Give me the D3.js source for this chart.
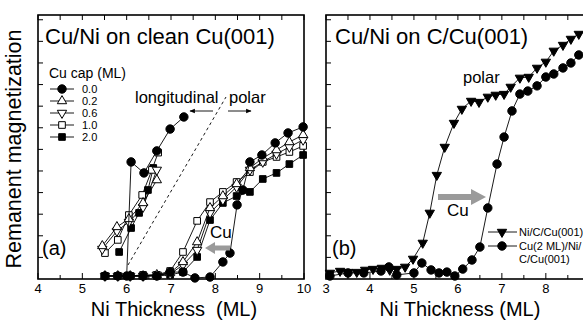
<!DOCTYPE html>
<html>
<head>
<meta charset="utf-8">
<script src="https://cdn.jsdelivr.net/npm/d3@7"></script>
<style>
  body { margin: 0; background: #fff; }
  text { font-family: "Liberation Sans", Arial, sans-serif; fill: #000; }
</style>
</head>
<body>
<script>
// ---- data, panel (a): Cu/Ni on clean Cu(001) ----
const capLabels = ["0.0", "0.2", "0.6", "1.0", "2.0"];
const capSymbols = ["circle", "up", "down", "square", "fsquare"];

// longitudinal branch
const longX00 = [6.0, 6.1, 6.39, 6.68, 6.98, 7.29];
const longY00 = [0.14, 5.42, 4.91, 5.93, 6.94, 7.5];
const longX02 = [5.45, 5.78, 6.05, 6.37, 6.68];
const longY02 = [1.53, 2.41, 2.78, 3.52, 4.58];
const longX06 = [5.45, 5.78, 6.05, 6.37, 6.68];
const longY06 = [1.39, 2.22, 2.64, 3.33, 5.05];
const longX10 = [5.51, 5.80, 6.05, 6.35, 6.57, 6.71];
const longY10 = [1.2, 1.81, 2.96, 3.89, 5.05, 5.85];
const longX20 = [5.83, 6.10, 6.28, 6.48, 6.6];
const longY20 = [1.25, 2.36, 3.06, 4.12, 5.14];

// polar branch
const polX00 = [5.51, 5.80, 6.08, 6.37, 6.68, 6.98, 7.27, 7.54, 7.88, 8.17, 8.33, 8.49, 8.62, 8.78, 9.05, 9.35, 9.64, 9.98];
const polY00 = [0.14, 0.14, 0.14, 0.14, 0.14, 0.32, 0.32, 0.05, 0.09, 0.79, 1.2, 3.43, 4.12, 5.42, 5.74, 6.30, 6.76, 7.04];
const polX = [5.51, 5.80, 6.08, 6.37, 6.68, 6.98, 7.27, 7.59, 7.88, 8.17, 8.48, 8.78, 9.07, 9.38, 9.67, 9.98];
const polY02 = [0.14, 0.14, 0.14, 0.14, 0.19, 0.28, 0.79, 1.71, 3.29, 3.84, 4.40, 5.14, 5.6, 5.97, 6.34, 6.67];
const polY06 = [0.14, 0.14, 0.14, 0.14, 0.19, 0.23, 0.65, 1.34, 3.06, 3.66, 4.26, 5.05, 5.42, 5.79, 6.11, 6.44];
const polY10 = [0.14, 0.14, 0.14, 0.19, 0.19, 0.37, 1.25, 2.69, 3.56, 4.03, 4.49, 4.95, 5.42, 5.65, 5.88, 6.16];
const polY20 = [0.14, 0.14, 0.14, 0.14, 0.14, 0.19, 0.32, 1.02, 2.73, 3.52, 3.84, 4.03, 4.63, 4.91, 5.32, 5.74];

// ---- data, panel (b): Cu/Ni on C/Cu(001) ----
const bLabels = ["Ni/C/Cu(001)", "Cu(2 ML)/Ni/", "C/Cu(001)"];
const niX = [3.09, 3.32, 3.5, 3.7, 3.89, 4.07, 4.27, 4.45, 4.61, 4.8, 4.98, 5.2, 5.36, 5.52, 5.7, 5.91, 6.09, 6.3, 6.48, 6.68, 6.86, 7.05, 7.2, 7.41, 7.61, 7.8, 8.0, 8.18, 8.39, 8.57, 8.75];
const niY = [0.28, 0.37, 0.32, 0.32, 0.42, 0.46, 0.51, 0.42, 0.46, 0.56, 0.93, 1.67, 3.06, 4.81, 6.11, 7.22, 7.87, 8.24, 8.19, 8.43, 8.52, 8.56, 8.89, 9.31, 9.35, 9.77, 10.05, 10.56, 10.83, 11.11, 11.34];
const cuX = [3.09, 3.5, 3.86, 4.25, 4.43, 4.61, 5.0, 5.18, 5.39, 5.57, 5.75, 5.93, 6.11, 6.32, 6.5, 6.68, 6.89, 7.05, 7.23, 7.41, 7.59, 7.8, 8.0, 8.18, 8.39, 8.57, 8.75];
const cuY = [0.14, 0.28, 0.28, 0.37, 0.56, 0.19, 0.28, 0.74, 0.42, 0.28, 0.32, 0.14, 0.46, 0.88, 1.48, 3.29, 5.32, 6.57, 7.78, 8.56, 8.70, 8.94, 9.35, 9.49, 9.77, 10.0, 10.37];

const aTicks = [4, 5, 6, 7, 8, 9, 10];
const bTicks = [3, 4, 5, 6, 7, 8];
const yTicks = [1, 2, 3, 4, 5, 6, 7, 8, 9, 10, 11, 12];

const W = 583, H = 320;
const svg = d3.select("body").append("svg")
    .attr("width", W).attr("height", H);

const plotTop = 15, plotBottom = 279;
const y = d3.scaleLinear().domain([0, 12.22]).range([plotBottom, plotTop]);
const xa = d3.scaleLinear().domain([4, 10]).range([38, 304]);
const xb = d3.scaleLinear().domain([3, 9.05]).range([326, 592]);

function zip(xs, ys) { return xs.map((v, i) => [v, ys[i]]); }

function symbolPath(kind) {
  if (kind === "circle") return d3.symbol(d3.symbolCircle, 56)();
  if (kind.endsWith("up") || kind.endsWith("down")) return d3.symbol(d3.symbolTriangle, 38)();
  return d3.symbol(d3.symbolSquare, 44)();
}

function drawMarks(g, pts, kind) {
  const filled = kind === "circle" || kind.startsWith("f");
  g.selectAll(null).data(pts).join("path")
      .attr("d", symbolPath(kind))
      .attr("transform", d => `translate(${d[0]},${d[1]})` + (kind.endsWith("down") ? " rotate(180)" : ""))
      .attr("fill", filled ? "#000" : "#fff")
      .attr("stroke", "#000")
      .attr("stroke-width", 1);
}

function drawSeries(g, x, xs, ys, kind) {
  const pts = zip(xs, ys).map(d => [x(d[0]), y(d[1])]);
  g.append("path")
      .attr("d", d3.line()(pts))
      .attr("fill", "none").attr("stroke", "#000").attr("stroke-width", 0.9);
  drawMarks(g, pts, kind);
}

function drawFrame(x, ticks, x0, x1) {
  const g = svg.append("g");
  // ticks point inward on every side
  const halves = d3.range(x0 * 2, x1 * 2 + 1).map(d => d / 2);
  g.selectAll(null).data(halves).join("line")
      .attr("x1", d => x(d)).attr("x2", d => x(d))
      .attr("y1", plotBottom).attr("y2", d => plotBottom - (d % 1 === 0 ? 6 : 4))
      .attr("stroke", "#000").attr("stroke-width", 1);
  g.selectAll(null).data(halves).join("line")
      .attr("x1", d => x(d)).attr("x2", d => x(d))
      .attr("y1", plotTop).attr("y2", plotTop + 5)
      .attr("stroke", "#000").attr("stroke-width", 1);
  g.selectAll(null).data(yTicks).join("line")
      .attr("x1", x(x0)).attr("x2", x(x0) + 5)
      .attr("y1", d => y(d)).attr("y2", d => y(d))
      .attr("stroke", "#000").attr("stroke-width", 1);
  g.append("rect")
      .attr("x", x.range()[0]).attr("y", plotTop)
      .attr("width", x.range()[1] - x.range()[0]).attr("height", plotBottom - plotTop)
      .attr("fill", "none").attr("stroke", "#000").attr("stroke-width", 1.6);
  g.selectAll(null).data(ticks).join("text")
      .attr("x", d => x(d)).attr("y", 293)
      .attr("text-anchor", "middle")
      .style("font-size", "13px")
      .text(d => d);
  return g;
}

// ---------- panel (a) ----------
const ga = drawFrame(xa, aTicks, 4, 10);

// dashed separator
svg.append("line")
    .attr("x1", 128).attr("y1", 265).attr("x2", 226).attr("y2", 97)
    .attr("stroke", "#000").attr("stroke-width", 0.9).attr("stroke-dasharray", "3,3");

const da = svg.append("g");
drawSeries(da, xa, polX, polY20, "fsquare");
drawSeries(da, xa, polX, polY10, "square");
drawSeries(da, xa, polX, polY06, "down");
drawSeries(da, xa, polX, polY02, "up");
drawSeries(da, xa, polX00, polY00, "circle");
drawSeries(da, xa, longX20, longY20, "fsquare");
drawSeries(da, xa, longX10, longY10, "square");
drawSeries(da, xa, longX06, longY06, "down");
drawSeries(da, xa, longX02, longY02, "up");
drawSeries(da, xa, longX00, longY00, "circle");

svg.append("text").attr("x", 45).attr("y", 44)
    .style("font-size", "22px").text("Cu/Ni on clean Cu(001)");
svg.append("text").attr("x", 49).attr("y", 78)
    .style("font-size", "14px").text("Cu cap (ML)");

const leg = svg.append("g");
capLabels.forEach((lab, i) => {
  const ly = 89 + i * 12;
  leg.append("line").attr("x1", 50).attr("x2", 74).attr("y1", ly).attr("y2", ly)
      .attr("stroke", "#000").attr("stroke-width", 0.9);
  drawMarks(leg, [[62, ly]], capSymbols[i]);
  leg.append("text").attr("x", 82).attr("y", ly + 4)
      .style("font-size", "11px").text(lab);
});

svg.append("text").attr("x", 135).attr("y", 103)
    .style("font-size", "16.5px").text("longitudinal");
svg.append("text").attr("x", 229).attr("y", 103)
    .style("font-size", "16.5px").text("polar");

const defs = svg.append("defs");
defs.append("marker").attr("id", "ah")
    .attr("viewBox", "0 0 10 10").attr("refX", 9).attr("refY", 5)
    .attr("markerWidth", 6).attr("markerHeight", 6).attr("orient", "auto")
  .append("path").attr("d", "M0,1 L10,5 L0,9 Z").attr("fill", "#000");
svg.append("line").attr("x1", 213).attr("x2", 190).attr("y1", 111).attr("y2", 111)
    .attr("stroke", "#000").attr("stroke-width", 0.9).attr("marker-end", "url(#ah)");
svg.append("line").attr("x1", 228).attr("x2", 251).attr("y1", 111).attr("y2", 111)
    .attr("stroke", "#000").attr("stroke-width", 0.9).attr("marker-end", "url(#ah)");

function greyArrow(xTail, xTip, yy, shaft, headH, headL) {
  const dir = xTip > xTail ? 1 : -1;
  const xb0 = xTip - dir * headL;
  svg.append("path")
      .attr("d", `M${xTail},${yy - shaft / 2} L${xb0},${yy - shaft / 2} L${xb0},${yy - headH / 2} ` +
                 `L${xTip},${yy} L${xb0},${yy + headH / 2} L${xb0},${yy + shaft / 2} L${xTail},${yy + shaft / 2} Z`)
      .attr("fill", "#9a9a9a");
}
greyArrow(230, 205, 248, 5, 12, 10);
svg.append("text").attr("x", 210).attr("y", 238)
    .style("font-size", "17px").text("Cu");
svg.append("text").attr("x", 42).attr("y", 255)
    .style("font-size", "20px").text("(a)");

// ---------- panel (b) ----------
const gb = drawFrame(xb, bTicks, 3, 9);
const db = svg.append("g");
drawSeries(db, xb, cuX, cuY, "circle");
drawSeries(db, xb, niX, niY, "fdown");

svg.append("text").attr("x", 335).attr("y", 44)
    .style("font-size", "22px").text("Cu/Ni on C/Cu(001)");
svg.append("text").attr("x", 463).attr("y", 83)
    .style("font-size", "16.5px").text("polar");
greyArrow(438, 486, 197, 6, 16, 15);
svg.append("text").attr("x", 447).attr("y", 216)
    .style("font-size", "17px").text("Cu");
svg.append("text").attr("x", 332).attr("y", 255)
    .style("font-size", "20px").text("(b)");

const legB = svg.append("g");
[["fdown", 232], ["circle", 246]].forEach(([k, ly]) => {
  legB.append("line").attr("x1", 488).attr("x2", 517).attr("y1", ly).attr("y2", ly)
      .attr("stroke", "#000").attr("stroke-width", 0.9);
  drawMarks(legB, [[502, ly]], k);
});
bLabels.forEach((lab, i) => {
  legB.append("text").attr("x", 519).attr("y", 236 + i * 13.5)
      .style("font-size", "11px").text(lab);
});

// ---------- axis titles ----------
svg.append("text")
    .attr("transform", "translate(21,149) rotate(-90)")
    .attr("text-anchor", "middle")
    .style("font-size", "21.5px").text("Remanent magnetization");
svg.append("text").attr("x", 174).attr("y", 316)
    .attr("text-anchor", "middle").style("white-space", "pre")
    .style("font-size", "20px").text("Ni Thickness  (ML)");
svg.append("text").attr("x", 460).attr("y", 316)
    .attr("text-anchor", "middle")
    .style("font-size", "20px").text("Ni Thickness (ML)");
</script>
</body>
</html>
